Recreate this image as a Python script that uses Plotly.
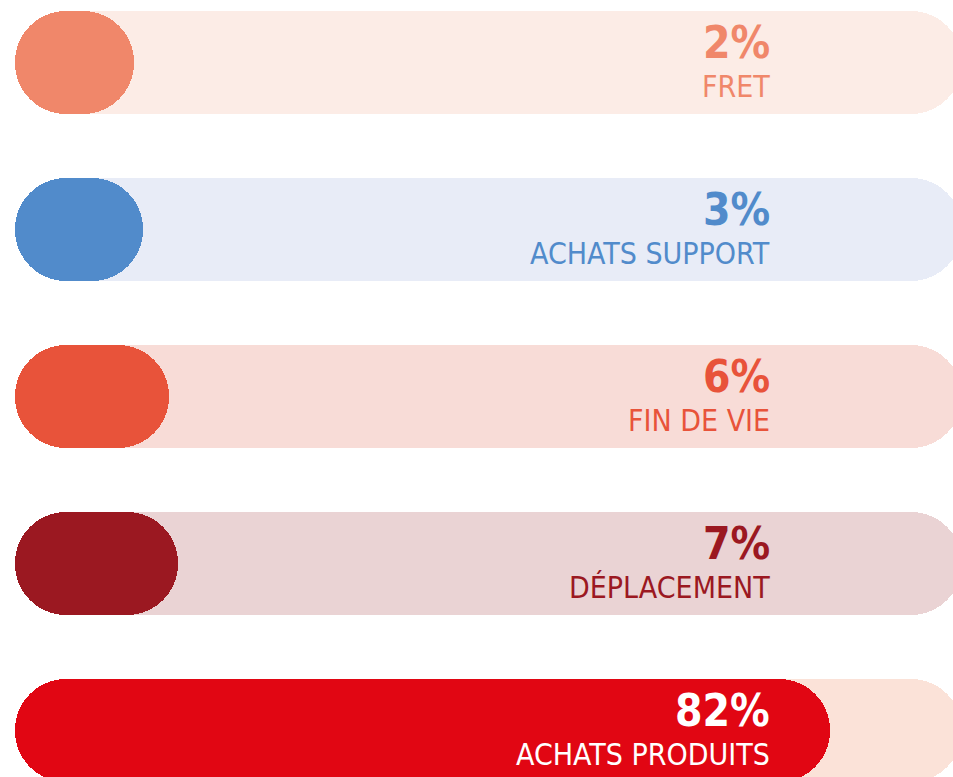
import plotly.graph_objects as go

categories = ["FRET", "ACHATS SUPPORT", "FIN DE VIE", "DÉPLACEMENT", "ACHATS PRODUITS"]
values = [2, 3, 6, 7, 82]
pct_labels = ["2%", "3%", "6%", "7%", "82%"]
bar_colors = ["#F0876A", "#518BCB", "#E8533A", "#9B1821", "#E10613"]
track_colors = ["#FCECE6", "#E8ECF7", "#F8DCD7", "#EAD3D4", "#FBE2D8"]
text_colors = ["#F0876A", "#518BCB", "#E8533A", "#9B1821", "#FFFFFF"]

W, H = 953, 777
LEFT_PX = 15
BASE_PX = 102        # pill cap size (0% length)
PX_PER_PCT = 8.7
TRACK_END_PX = 962
TEXT_PX = 772
ROW0_PX, ROW_STEP_PX, BAR_PX = 62, 167, 103

zero_px = LEFT_PX + BASE_PX
x_range = [(0 - zero_px) / PX_PER_PCT, (W - zero_px) / PX_PER_PCT]
base_u = -BASE_PX / PX_PER_PCT
track_len = (TRACK_END_PX - zero_px) / PX_PER_PCT - base_u
text_x = (TEXT_PX - zero_px) / PX_PER_PCT
y_range = [(H - ROW0_PX) / ROW_STEP_PX, -ROW0_PX / ROW_STEP_PX]
bar_w = BAR_PX / ROW_STEP_PX

ys = list(range(len(categories)))

fig = go.Figure()
fig.add_trace(go.Bar(
    y=ys, x=[track_len] * len(ys), base=base_u, orientation="h",
    width=bar_w, marker=dict(color=track_colors, cornerradius=BAR_PX / 2, line=dict(width=0)),
    hoverinfo="skip", showlegend=False,
))
fig.add_trace(go.Bar(
    y=ys, x=[v - base_u for v in values], base=base_u, orientation="h",
    width=bar_w, marker=dict(color=bar_colors, cornerradius=BAR_PX / 2, line=dict(width=0)),
    customdata=categories, hovertemplate="%{customdata}: %{x}<extra></extra>",
    showlegend=False,
))

font_fam = "DejaVu Sans Condensed, DejaVu Sans, sans-serif"
for i, (cat, pl, tc) in enumerate(zip(categories, pct_labels, text_colors)):
    fig.add_annotation(x=text_x, y=i, text="<b>" + pl + "</b>", showarrow=False,
                       xanchor="right", yanchor="middle", yshift=20,
                       font=dict(family=font_fam, size=44, color=tc))
    fig.add_annotation(x=text_x, y=i, text=cat, showarrow=False,
                       xanchor="right", yanchor="middle", yshift=-24,
                       font=dict(family=font_fam, size=30, color=tc))

fig.update_layout(
    width=W, height=H, margin=dict(l=0, r=0, t=0, b=0),
    paper_bgcolor="white", plot_bgcolor="white",
    barmode="overlay", bargap=0,
    xaxis=dict(range=x_range, visible=False, fixedrange=True),
    yaxis=dict(range=y_range, visible=False, fixedrange=True),
)
fig.write_html("out.html", post_script="document.body.style.margin='0';",
               config={"displayModeBar": False})
